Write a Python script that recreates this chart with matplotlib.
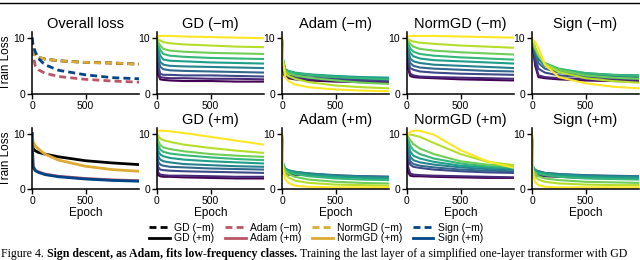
import matplotlib
matplotlib.use("Agg")
import matplotlib.pyplot as plt
from matplotlib.lines import Line2D

plt.rcParams['font.family'] = ['Liberation Sans', 'DejaVu Sans']

epochs = [0, 10, 30, 60, 120, 250, 500, 750, 1000]

methods = ["GD", "Adam", "NormGD", "Sign"]
method_colors = {"GD": "black", "Adam": "#BB5566", "NormGD": "#DDAA33", "Sign": "#004488"}

# overall loss, without momentum (-m) and with momentum (+m)
overall_nm = {
    "GD":     [10.0, 7.9, 6.9, 6.5, 6.2, 5.9, 5.6, 5.5, 5.3],
    "Adam":   [10.0, 7.0, 5.0, 4.3, 3.7, 3.1, 2.6, 2.3, 2.1],
    "NormGD": [10.0, 8.0, 6.9, 6.5, 6.2, 5.9, 5.6, 5.5, 5.3],
    "Sign":   [10.0, 8.8, 7.5, 6.3, 5.2, 4.2, 3.4, 2.9, 2.7],
}
overall_m = {
    "GD":     [10.0, 7.3, 6.9, 6.6, 6.3, 5.8, 5.1, 4.7, 4.4],
    "Adam":   [10.0, 4.2, 3.4, 3.1, 2.7, 2.3, 1.9, 1.65, 1.5],
    "NormGD": [10.0, 8.5, 7.8, 7.2, 6.3, 5.2, 4.1, 3.5, 3.2],
    "Sign":   [10.0, 4.0, 3.3, 3.0, 2.6, 2.2, 1.8, 1.55, 1.4],
}

# per-class losses, class 0 (most frequent, purple) .. class 9 (rarest, yellow)
gd_nm = [
    [9.4, 3.5, 2.6, 2.5, 2.4, 2.3, 2.3, 2.2, 2.2],
    [9.5, 4.2, 3.0, 2.9, 2.8, 2.8, 2.7, 2.7, 2.6],
    [9.5, 5.2, 3.6, 3.4, 3.4, 3.3, 3.3, 3.2, 3.1],
    [9.6, 6.5, 4.8, 4.4, 4.2, 4.1, 4.0, 3.9, 3.8],
    [9.6, 7.4, 5.7, 5.2, 5.0, 4.9, 4.8, 4.7, 4.6],
    [9.7, 8.2, 6.8, 6.1, 5.9, 5.8, 5.6, 5.5, 5.4],
    [9.8, 8.9, 7.8, 7.1, 6.8, 6.6, 6.4, 6.3, 6.2],
    [9.8, 9.3, 8.6, 8.0, 7.7, 7.5, 7.3, 7.2, 7.1],
    [9.9, 9.7, 9.5, 9.2, 9.0, 8.8, 8.6, 8.4, 8.3],
    [10.0, 10.2, 10.3, 10.3, 10.3, 10.2, 10.1, 10.0, 9.9],
]
adam_nm = [
    [9.5, 4.0, 3.0, 2.8, 2.6, 2.4, 2.2, 2.1, 2.0],
    [9.5, 4.2, 3.2, 3.0, 2.8, 2.6, 2.4, 2.3, 2.2],
    [9.6, 5.0, 3.6, 3.3, 3.1, 2.9, 2.7, 2.5, 2.4],
    [9.6, 5.5, 4.0, 3.7, 3.5, 3.3, 3.0, 2.8, 2.7],
    [9.7, 5.8, 4.3, 4.0, 3.7, 3.4, 3.1, 2.9, 2.8],
    [9.7, 6.0, 4.4, 4.1, 3.8, 3.5, 3.2, 3.0, 2.9],
    [9.8, 6.0, 4.3, 4.0, 3.7, 3.4, 3.0, 2.8, 2.6],
    [9.8, 6.0, 4.1, 3.7, 3.3, 2.9, 2.4, 2.0, 1.8],
    [9.9, 5.8, 3.7, 3.2, 2.7, 2.1, 1.5, 1.2, 1.0],
    [10.0, 5.5, 3.0, 2.3, 1.7, 1.2, 0.8, 0.6, 0.5],
]
normgd_nm = [
    [9.4, 4.5, 3.2, 3.0, 2.9, 2.8, 2.6, 2.5, 2.4],
    [9.5, 5.2, 3.6, 3.3, 3.1, 3.0, 2.9, 2.8, 2.7],
    [9.5, 6.0, 4.6, 4.3, 4.0, 3.8, 3.6, 3.5, 3.4],
    [9.6, 7.0, 5.5, 5.0, 4.7, 4.5, 4.3, 4.1, 4.0],
    [9.6, 7.8, 6.3, 5.8, 5.5, 5.2, 5.0, 4.8, 4.6],
    [9.7, 8.5, 7.3, 6.7, 6.3, 6.0, 5.8, 5.6, 5.4],
    [9.8, 9.0, 8.1, 7.5, 7.1, 6.8, 6.5, 6.3, 6.1],
    [9.8, 9.4, 8.9, 8.4, 8.0, 7.7, 7.4, 7.2, 7.0],
    [9.9, 9.7, 9.5, 9.3, 9.1, 8.9, 8.6, 8.4, 8.2],
    [10.0, 10.2, 10.3, 10.3, 10.3, 10.3, 10.2, 10.1, 10.0],
]
sign_nm = [
    [9.0, 8.0, 5.0, 3.0, 2.8, 2.6, 2.4, 2.3, 2.2],
    [9.0, 8.2, 5.6, 3.3, 3.0, 2.8, 2.6, 2.5, 2.4],
    [9.2, 8.4, 6.5, 4.5, 3.8, 3.3, 3.0, 2.8, 2.7],
    [9.3, 8.6, 7.2, 5.5, 4.5, 3.8, 3.3, 3.1, 3.0],
    [9.4, 8.8, 7.6, 6.2, 5.0, 4.2, 3.6, 3.3, 3.2],
    [9.5, 9.0, 7.9, 6.6, 5.3, 4.4, 3.7, 3.4, 3.3],
    [9.6, 9.1, 8.0, 6.8, 5.5, 4.5, 3.7, 3.4, 3.2],
    [9.7, 9.2, 8.1, 6.9, 5.4, 4.3, 3.3, 2.9, 2.7],
    [9.8, 9.4, 8.3, 7.0, 5.3, 3.9, 2.8, 2.3, 2.0],
    [9.9, 9.6, 9.2, 8.2, 5.2, 3.0, 1.9, 1.3, 1.0],
]
gd_m = [
    [9.0, 2.5, 2.3, 2.2, 2.2, 2.1, 2.0, 1.9, 1.9],
    [9.2, 3.0, 2.6, 2.5, 2.4, 2.4, 2.3, 2.2, 2.2],
    [9.4, 4.0, 3.5, 3.4, 3.3, 3.2, 3.1, 3.0, 2.9],
    [9.5, 5.0, 4.4, 4.2, 4.0, 3.9, 3.7, 3.6, 3.5],
    [9.6, 6.0, 5.3, 5.0, 4.8, 4.5, 4.3, 4.1, 4.0],
    [9.7, 7.0, 6.2, 5.9, 5.6, 5.3, 5.0, 4.8, 4.6],
    [9.8, 8.0, 7.1, 6.7, 6.4, 6.1, 5.7, 5.4, 5.2],
    [9.9, 8.8, 7.9, 7.5, 7.2, 6.8, 6.3, 6.0, 5.8],
    [10.0, 9.6, 9.1, 8.8, 8.5, 8.0, 7.4, 6.9, 6.5],
    [10.2, 10.4, 10.5, 10.5, 10.4, 10.1, 9.4, 8.7, 8.0],
]
adam_m = [
    [9.0, 2.8, 2.7, 2.6, 2.6, 2.5, 2.3, 2.1, 2.0],
    [9.2, 3.0, 2.8, 2.7, 2.6, 2.5, 2.3, 2.2, 2.1],
    [9.4, 3.8, 3.3, 3.1, 2.9, 2.7, 2.4, 2.3, 2.2],
    [9.5, 4.2, 3.6, 3.3, 3.1, 2.8, 2.5, 2.3, 2.2],
    [9.6, 4.4, 3.7, 3.4, 3.1, 2.8, 2.4, 2.2, 2.1],
    [9.7, 4.5, 3.7, 3.3, 3.0, 2.6, 2.2, 2.0, 1.9],
    [9.8, 4.5, 3.5, 3.1, 2.7, 2.3, 1.9, 1.7, 1.6],
    [9.8, 4.3, 3.2, 2.7, 2.2, 1.7, 1.3, 1.1, 1.0],
    [9.9, 4.0, 2.7, 2.1, 1.5, 1.1, 0.8, 0.7, 0.6],
    [10.0, 3.5, 1.8, 1.1, 0.6, 0.4, 0.3, 0.3, 0.3],
]
normgd_m = [
    [9.0, 3.0, 2.4, 2.3, 2.3, 2.2, 2.1, 2.0, 2.0],
    [9.2, 4.0, 2.8, 2.6, 2.5, 2.4, 2.3, 2.2, 2.1],
    [9.3, 6.0, 4.4, 4.0, 3.8, 3.5, 3.2, 3.0, 2.9],
    [9.4, 7.0, 5.0, 4.5, 4.2, 3.9, 3.5, 3.3, 3.2],
    [9.5, 8.0, 5.8, 5.2, 4.8, 4.4, 3.9, 3.6, 3.5],
    [9.6, 8.6, 6.8, 6.0, 5.5, 4.9, 4.2, 3.9, 3.7],
    [9.7, 9.0, 7.8, 7.0, 6.3, 5.5, 4.6, 4.1, 3.9],
    [9.8, 9.4, 8.8, 8.1, 7.3, 6.3, 5.0, 4.4, 4.1],
    [9.9, 9.8, 9.8, 9.7, 9.4, 8.3, 6.3, 4.9, 4.3],
    [9.6, 9.9, 10.3, 10.5, 10.5, 9.8, 7.0, 5.0, 3.8],
]
sign_m = [
    [8.5, 2.5, 2.5, 2.4, 2.3, 2.2, 2.0, 1.9, 1.8],
    [8.7, 2.7, 2.6, 2.5, 2.4, 2.3, 2.1, 2.0, 1.9],
    [9.0, 3.5, 3.2, 3.0, 2.8, 2.6, 2.4, 2.3, 2.2],
    [9.2, 3.8, 3.4, 3.2, 2.9, 2.7, 2.5, 2.4, 2.3],
    [9.4, 4.0, 3.4, 3.2, 2.9, 2.7, 2.4, 2.3, 2.2],
    [9.5, 4.0, 3.3, 3.0, 2.8, 2.5, 2.2, 2.1, 2.0],
    [9.7, 3.8, 3.1, 2.8, 2.5, 2.2, 1.9, 1.8, 1.7],
    [9.8, 3.5, 2.7, 2.3, 1.9, 1.6, 1.3, 1.2, 1.1],
    [9.9, 3.2, 2.2, 1.7, 1.3, 1.0, 0.8, 0.7, 0.7],
    [10.0, 2.5, 1.2, 0.7, 0.4, 0.3, 0.3, 0.3, 0.3],
]

per_class = [
    [("GD (\u2212m)", gd_nm), ("Adam (\u2212m)", adam_nm), ("NormGD (\u2212m)", normgd_nm), ("Sign (\u2212m)", sign_nm)],
    [("GD (+m)", gd_m), ("Adam (+m)", adam_m), ("NormGD (+m)", normgd_m), ("Sign (+m)", sign_m)],
]

fig = plt.figure(figsize=(6.4, 2.6), dpi=100)

W, H = 640, 260
col_x = [32, 157, 282, 407, 532]
ax_w = 107
rows = [(32, 94), (128, 189)]
dash = (0, (2.5, 1.5))

def make_ax(c, r):
    top, bot = rows[r]
    ax = fig.add_axes([col_x[c] / W, 1 - bot / H, ax_w / W, (bot - top) / H])
    ax.set_xlim(0, 1000)
    ax.set_ylim(0, 11)
    ax.set_xticks([0, 500])
    ax.set_yticks([0, 10])
    ax.spines[["top", "right"]].set_visible(False)
    for s in ["left", "bottom"]:
        ax.spines[s].set_linewidth(1.1)
    ax.tick_params(labelsize=7.5, length=3.5, width=1.0, pad=1.5)
    if c == 0:
        ax.set_ylabel("Train Loss", fontsize=8.5, labelpad=1)
    if r == 1:
        ax.set_xlabel("Epoch", fontsize=8.5, labelpad=1)
    return ax

for r, data, ls in [(0, overall_nm, dash), (1, overall_m, "-")]:
    ax = make_ax(0, r)
    if r == 0:
        ax.set_title("Overall loss", fontsize=10.5, pad=3)
    for m in methods:
        ax.plot(epochs, data[m], color=method_colors[m], lw=2, linestyle=ls)

cmap = plt.get_cmap("viridis")
for r in range(2):
    for c, (title, curves) in enumerate(per_class[r]):
        ax = make_ax(c + 1, r)
        ax.set_title(title, fontsize=10.5, pad=3)
        n = len(curves)
        for i, y in enumerate(curves):
            ax.plot(epochs, y, color=cmap(i / (n - 1)), lw=1.5)

# legend: two rows (-m dashed, +m solid)
leg_handles, leg_labels = [], []
for m in methods:
    leg_handles.append(Line2D([], [], color=method_colors[m], lw=2, linestyle=dash))
    leg_labels.append(m + " (\u2212m)")
    leg_handles.append(Line2D([], [], color=method_colors[m], lw=2))
    leg_labels.append(m + " (+m)")
fig.legend(leg_handles, leg_labels, ncol=4, loc="center", bbox_to_anchor=(316 / W, 1 - 233 / H),
           frameon=False, fontsize=7.5, handlelength=2.0, handletextpad=0.4,
           columnspacing=1.0, labelspacing=0.05, borderpad=0)

# rule at the top of the page
fig.add_artist(Line2D([0, 1], [1 - 2.5 / H, 1 - 2.5 / H], color="black", lw=1))

# caption
cap_y = 1 - 257 / H
cap_fs = 8.6
t1 = fig.text(1 / W, cap_y, "Figure 4. ", fontsize=cap_fs, family="Liberation Serif", va="baseline")
fig.canvas.draw()
bb = t1.get_window_extent()
t2 = fig.text(bb.x1 / fig.bbox.width, cap_y, "Sign descent, as Adam, fits low-frequency classes.",
              fontsize=cap_fs, family="Liberation Serif", weight="bold", va="baseline")
fig.canvas.draw()
bb2 = t2.get_window_extent()
fig.text(bb2.x1 / fig.bbox.width + 3 / W, cap_y,
         "Training the last layer of a simplified one-layer transformer with GD",
         fontsize=cap_fs, family="Liberation Serif", va="baseline")

fig.savefig("out.png", dpi=100)
